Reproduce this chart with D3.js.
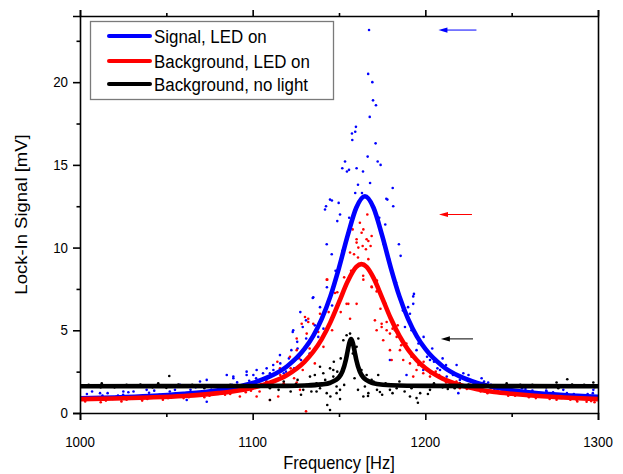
<!DOCTYPE html>
<html>
<head>
<meta charset="utf-8">
<script src="https://cdn.jsdelivr.net/npm/d3@7"></script>
<style>
  body { margin: 0; background: #fff; }
  text { font-family: "Liberation Sans", Arial, sans-serif; fill: #000; }
  .axis path, .axis line { stroke: #000; stroke-width: 1.6; }
</style>
</head>
<body>
<div id="chart"></div>
<script>
// ---- data ----
var xTicks = [1000, 1100, 1200, 1300];
var xMinor = [1050, 1150, 1250];
var yTicks = [0, 5, 10, 15, 20];
var yMinor = [2.5, 7.5, 12.5, 17.5, 22.5];

var seriesNames = ["Signal, LED on", "Background, LED on", "Background, no light"];
var seriesColors = ["#0000ff", "#ff0000", "#000000"];

// fitted curves [frequency, mV]
var blueFit = [[1000,0.89],[1020,0.94],[1040,1.02],[1060,1.16],[1080,1.38],[1090,1.56],[1100,1.82],
  [1110,2.21],[1120,2.83],[1130,3.87],[1135,4.65],[1140,5.69],[1145,7.05],[1150,8.78],[1155,10.72],
  [1160,12.41],[1165,13.10],[1170,12.41],[1175,10.72],[1180,8.78],[1185,7.05],[1190,5.69],[1195,4.65],
  [1200,3.87],[1210,2.83],[1220,2.21],[1230,1.82],[1240,1.56],[1250,1.38],[1260,1.25],[1280,1.08],[1300,0.98]];
var redFit = [[1000,0.84],[1020,0.88],[1040,0.94],[1060,1.03],[1080,1.20],[1090,1.33],[1100,1.53],
  [1110,1.83],[1120,2.30],[1130,3.09],[1135,3.69],[1140,4.47],[1145,5.48],[1150,6.70],[1155,7.95],
  [1160,8.83],[1163,9.00],[1166,8.83],[1170,8.17],[1175,6.96],[1180,5.71],[1185,4.66],[1190,3.83],
  [1195,3.20],[1200,2.72],[1210,2.08],[1220,1.69],[1230,1.44],[1240,1.27],[1250,1.16],[1260,1.07],
  [1280,0.94],[1300,0.84]];
var blackFit = [[1000,1.62],[1100,1.63],[1120,1.64],[1130,1.66],[1140,1.73],[1145,1.83],[1148,1.98],
  [1150,2.16],[1152,2.52],[1154,3.22],[1155,3.74],[1156,4.24],[1157,4.47],[1158,4.24],[1159,3.74],
  [1160,3.22],[1162,2.52],[1164,2.16],[1166,1.98],[1169,1.83],[1172,1.76],[1180,1.68],[1200,1.64],[1300,1.62]];

// measured points [frequency, mV]
var bluePts = [[1167.4,23.15],[1166.9,20.5],[1169.3,20.0],[1169.7,18.9],[1171.4,18.6],[1167.8,17.9],
  [1159.8,17.3],[1159.4,17.0],[1157.5,16.9],[1157.7,16.5],[1171.2,16.3],[1166.6,15.5],[1153.5,15.2],
  [1172.4,15.2],[1174.1,15.0],[1151.9,14.8],[1155.8,14.7],[1154.6,14.6],[1160.2,14.8],[1163.9,14.6],
  [1181.1,13.6],[1159.4,13.3],[1163.3,13.3],[1177.4,12.95],[1178.0,12.9],[1144.8,12.9],[1145.9,12.85],
  [1142.5,12.5],[1141.9,12.3],[1149.8,12.7],[1181.4,12.5],[1150.6,12.0],[1155.9,11.8],[1149.0,11.6],
  [1173.3,11.8],[1176.8,11.4],[1142.9,10.2],[1145.8,9.6],[1184.7,10.2],[1185.7,9.5],[1135.1,7.0],
  [1127.6,6.1],[1130.9,5.6],[1123.5,5.0],[1193.0,6.6],[1191.1,6.0],[1193.4,7.2],[1134.8,6.95],
  [1129.0,5.2],[1125.8,4.3],[1123.2,4.9],[1122.4,3.8],[1115.8,3.5],[1111.9,2.9],[1108.1,2.7],
  [1102.3,2.6],[1096.5,2.3],[1088.8,2.2],[1085.0,2.3],[1119.3,2.5],[1110.0,2.4],[1193.0,7.05],
  [1188.2,5.2],[1179.5,3.2],[1194.9,3.8],[1202.7,3.2],[1208.5,2.6],[1212.4,2.2],[1198.8,2.6],
  [1189.1,2.3],[1088.8,2.1],[1096.5,2.5],[1100.4,2.3],[1069.5,1.9],[1073.4,2.0],[1057.9,1.7],
  [1038.6,1.4],[1025.1,1.3],[1011.6,1.2],[1073.4,0.68],[1061.8,0.79],[1218.1,2.9],[1232.6,2.1],
  [1236.4,1.84],[1297.3,1.4],[1219.1,1.2],[1270.2,1.29],[1279.9,1.4],
  [1102,2.1],[1104,1.6],[1106,2.4],[1108,1.9],[1112,2.6],[1114,2.0],[1116,3.0],[1118,2.4],[1121,3.3],
  [1124,2.7],[1126,3.9],[1128,3.2],[1131,4.5],[1133,3.6],[1136,5.3],[1138,4.6],[1139,6.4],[1141,5.1],
  [1143,7.6],[1146,6.5],[1148,8.6],[1152,9.8],[1161,13.8],[1168,13.9],[1171,12.0],[1176,10.2],
  [1179,9.3],[1183,7.9],[1187,6.2],[1190,6.4],[1192,5.0],[1196,4.2],[1199,4.6],[1201,3.4],[1204,3.9],
  [1207,2.7],[1210,3.3],[1214,2.5],[1220,2.0],[1225,2.3],[1238,1.7],[1244,1.3],[1256,1.5],
  [1002,0.8],[1004,1.15],[1007,1.3],[1010,0.95],[1013,1.05],[1016,1.2],[1019,0.85],[1022,1.05],
  [1025,1.1],[1028,1.25],[1031,1.3],[1034,0.98],[1037,1.0],[1040,1.22],[1043,1.35],[1046,1.1],
  [1049,0.95],[1052,1.3],[1055,1.4],[1058,1.05],[1061,1.15],[1064,1.4],[1067,1.55],[1070,1.2],
  [1073,1.3],[1076,1.55],[1079,1.6],[1082,1.35],[1085,1.45],[1088,1.7],[1091,1.85],[1094,1.5],
  [1096,1.55],[1098,1.95],
  [1205,3.1],[1212,2.9],[1216,2.3],[1222,2.4],[1228,1.75],[1234,1.9],[1240,1.45],[1246,1.6],[1252,1.3],
  [1258,1.45],[1262,1.35],[1264,1.15],[1268,1.05],[1270,1.35],[1274,1.25],[1276,1.05],[1280,0.95],
  [1282,1.2],[1286,1.15],[1288,0.95],[1292,1.0],[1294,1.15],[1297,1.2],[1299,0.85]];
var redPts = [[1166.4,12.0],[1162.1,11.5],[1157.9,11.1],[1164.1,11.1],[1163.1,10.9],[1168.9,10.7],
  [1160.2,10.5],[1167.0,10.4],[1168.3,10.1],[1163.7,10.1],[1161.2,10.0],[1165.6,9.9],[1158.7,9.6],
  [1156.4,9.7],[1142.9,8.06],[1147.7,7.25],[1132.2,5.7],[1135.1,5.4],[1139.0,6.0],[1128.4,5.4],
  [1131.3,4.8],[1125.5,4.5],[1155.4,6.6],[1156.4,5.7],[1160.2,6.6],[1171.8,5.0],[1174.7,5.2],
  [1177.6,5.5],[1179.5,4.8],[1182.4,5.0],[1175.6,4.4],[1168.9,7.65],[1171.8,7.35],[1166.0,10.5],
  [1160.2,10.3],[1130.3,5.8],[1132.2,5.5],[1125.5,3.8],[1121.6,3.4],[1114.3,3.1],[1115.8,2.7],
  [1125.5,1.84],[1127.4,1.4],[1130.9,0.1],[1114.8,1.0],[1110.0,0.79],[1102.3,1.0],[1092.6,1.0],
  [1143.2,8.06],[1174.7,5.4],[1177.6,5.0],[1183.4,4.6],[1185.3,3.8],[1187.2,3.2],[1191.1,3.0],
  [1194.9,2.6],[1198.8,2.4],[1193.0,2.2],[1202.7,2.2],[1179.5,3.8],[1180.5,3.2],[1164.1,8.06],
  [1170.8,5.6],[1154.4,6.6],[1287.6,0.79],[1293.4,0.68],
  [1104,1.3],[1108,1.9],[1112,1.6],[1116,2.3],[1118,1.8],[1122,2.7],[1124,2.1],[1127,3.3],[1129,2.6],
  [1133,3.9],[1136,3.0],[1138,4.9],[1141,4.0],[1144,6.1],[1146,5.0],[1149,7.3],[1151,6.1],[1153,8.2],
  [1157,8.6],[1161,9.4],[1164,8.3],[1167,9.3],[1169,7.6],[1172,8.0],[1174,6.3],[1177,6.6],[1181,5.1],
  [1184,5.3],[1186,4.1],[1189,4.2],[1192,3.4],[1196,2.9],[1199,3.1],[1203,2.4],[1208,2.3],[1214,1.9],
  [1220,1.5],[1226,1.7],[1232,1.3],[1238,1.5],
  [1003,0.7],[1006,0.85],[1009,0.95],[1012,0.65],[1015,0.75],[1018,0.9],[1021,0.98],[1024,0.7],
  [1027,0.8],[1030,0.95],[1033,1.0],[1036,0.75],[1039,0.85],[1042,1.0],[1045,1.05],[1048,0.8],
  [1051,0.9],[1054,1.05],[1057,1.15],[1060,0.9],[1063,0.95],[1066,1.15],[1069,1.25],[1072,0.95],
  [1075,1.05],[1078,1.3],[1081,1.35],[1084,1.1],[1087,1.15],[1090,1.4],[1093,1.5],[1096,1.25],
  [1099,1.35],[1102,1.6],[1105,1.75],
  [1206,2.5],[1212,1.85],[1218,1.9],[1224,1.45],[1230,1.6],[1236,1.2],[1242,1.35],[1246,1.3],
  [1248,1.05],[1252,1.05],[1254,1.2],[1258,1.15],[1260,0.95],[1264,0.9],[1266,1.1],[1270,1.05],
  [1272,0.85],[1276,0.8],[1278,1.0],[1282,0.95],[1284,0.8],[1288,0.7],[1290,0.95],[1294,0.9],
  [1296,0.72],[1298,0.65],[1300,0.85]];
var blackPts = [[1154.4,4.7],[1156.4,4.8],[1152.5,4.4],[1161.2,4.5],[1160.2,4.0],[1144.8,2.7],
  [1146.7,2.2],[1150.6,1.4],[1148.6,1.2],[1166.0,2.3],[1172.7,2.3],[1168.9,2.0],[1164.1,1.0],
  [1179.5,1.4],[1191.1,1.0],[1194.9,0.9],[1183.4,1.5],[1202.7,1.4],[1139.0,2.8],[1146.7,2.6],
  [1140.9,2.4],[1137.0,1.8],[1142.9,1.2],[1143.2,0.48],[1137.0,1.3],[1119.7,1.6],[1129.3,1.4],
  [1110.0,0.79],[1133.2,2.2],[1148.6,1.6],[1144.8,0.18],[1150.6,0.84],[1166.8,1.03],[1195.7,0.62],
  [1173.7,1.27],[1201.5,1.15],[1051.7,2.24],[1045.3,1.8],[1012.6,1.8],[1282.2,2.04],[1276.0,1.84],
  [1297.3,1.84],[1247.1,1.8],[1233.6,1.8],
  [1115,1.4],[1118,1.9],[1122,1.3],[1126,2.0],[1128,1.1],[1131,1.7],[1134,1.3],[1136,2.3],[1139,1.5],
  [1142,2.0],[1145,1.0],[1147,3.1],[1149,2.5],[1151,3.3],[1153,1.7],[1155,3.9],[1158,3.6],[1159,2.1],
  [1161,1.4],[1163,2.6],[1165,1.6],[1167,1.2],[1170,1.9],[1172,1.4],[1175,1.1],[1177,1.8],[1181,1.2],
  [1185,1.9],[1188,1.3],[1192,1.5],[1197,1.2],[1205,1.8],[1213,1.45],[1220,1.8],
  [1005,1.7],[1012,1.55],[1020,1.55],[1027,1.7],[1035,1.72],[1042,1.55],[1050,1.52],[1057,1.72],
  [1065,1.7],[1072,1.5],[1080,1.56],[1087,1.7],[1095,1.72],[1102,1.55],[1110,1.5],[1125,1.75],
  [1210,1.55],[1217,1.5],[1225,1.72],[1232,1.68],[1240,1.5],[1247,1.55],[1255,1.7],[1262,1.7],
  [1270,1.55],[1277,1.5],[1285,1.72],[1292,1.7],[1298,1.56]];

// arrows: [mV level, tail frequency, head frequency]
var arrows = [[23.15, 1229.6, 1207.6], [12.0, 1227.0, 1207.9], [4.48, 1227.6, 1209.0]];

// ---- layout ----
var width = 623, height = 474;
var padL = 80, padR = 598, padT = 16, padB = 413;
var squish = 0.89;   // picture text is a bit narrow

var svg = d3.select("#chart").append("svg")
  .attr("width", width).attr("height", height);

var xScale = d3.scaleLinear().domain([1000, 1300]).range([padL, padR]);
var yScale = d3.scaleLinear().domain([0, 24]).range([padB, padT]);

// helper for narrow text
function label(g, x, y, str, size, anchor, rot) {
  var t = "translate(" + x + "," + y + ") scale(" + squish + ",1)" + (rot ? " rotate(" + rot + ")" : "");
  return g.append("text")
    .attr("transform", t)
    .attr("text-anchor", anchor)
    .style("font-size", size + "px")
    .text(str);
}

svg.append("clipPath").attr("id", "plotclip")
  .append("rect").attr("x", padL).attr("y", padT)
  .attr("width", padR - padL).attr("height", padB - padT);

var plot = svg.append("g").attr("clip-path", "url(#plotclip)");

// scatter points
var ptsSets = [bluePts, redPts, blackPts];
ptsSets.forEach(function(pts, i) {
  plot.append("g").selectAll("circle").data(pts).enter().append("circle")
    .attr("cx", function(d) { return xScale(d[0]); })
    .attr("cy", function(d) { return yScale(d[1]); })
    .attr("r", 1.3)
    .attr("fill", seriesColors[i]);
});

// fitted lines
var line = d3.line()
  .curve(d3.curveMonotoneX)
  .x(function(d) { return xScale(d[0]); })
  .y(function(d) { return yScale(d[1]); });

[blueFit, redFit, blackFit].forEach(function(fit, i) {
  plot.append("path").datum(fit)
    .attr("d", line)
    .attr("fill", "none")
    .attr("stroke", seriesColors[i])
    .attr("stroke-width", 4.6);
});

// ---- axes ----
function noDomain(g) { g.select(".domain").remove(); }

svg.append("g").attr("class", "axis")
  .attr("transform", "translate(0," + padB + ")")
  .call(d3.axisBottom(xScale).tickValues(xTicks).tickSize(7).tickFormat(""));
svg.append("g").attr("class", "axis")
  .attr("transform", "translate(0," + padB + ")")
  .call(d3.axisBottom(xScale).tickValues(xMinor).tickSize(4).tickFormat("")).call(noDomain);
svg.append("g").attr("class", "axis")
  .attr("transform", "translate(0," + padT + ")")
  .call(d3.axisTop(xScale).tickValues(xTicks).tickSize(6).tickFormat(""));
svg.append("g").attr("class", "axis")
  .attr("transform", "translate(0," + padT + ")")
  .call(d3.axisTop(xScale).tickValues(xMinor).tickSize(3).tickFormat("")).call(noDomain);
svg.append("g").attr("class", "axis")
  .attr("transform", "translate(" + padL + ",0)")
  .call(d3.axisLeft(yScale).tickValues(yTicks).tickSize(7).tickFormat(""));
svg.append("g").attr("class", "axis")
  .attr("transform", "translate(" + padL + ",0)")
  .call(d3.axisLeft(yScale).tickValues(yMinor).tickSize(3.5).tickFormat("")).call(noDomain);
svg.append("g").attr("class", "axis")
  .attr("transform", "translate(" + padR + ",0)")
  .call(d3.axisRight(yScale).tickValues([]).tickSizeOuter(0));

// tick labels
xTicks.forEach(function(v) { label(svg, xScale(v), 447, v, 15, "middle"); });
yTicks.forEach(function(v) { label(svg, padL - 12, yScale(v) + 5, v, 15, "end"); });

// axis titles
label(svg, (padL + padR) / 2, 469, "Frequency [Hz]", 18.5, "middle");
label(svg, 27, (padT + padB) / 2, "Lock-In Signal [mV]", 18.5, "middle", -90);

// ---- arrows ----
var arrowG = svg.append("g");
arrows.forEach(function(a, i) {
  var y = yScale(a[0]), x1 = xScale(a[1]), x2 = xScale(a[2]);
  arrowG.append("line")
    .attr("x1", x1).attr("x2", x2 + 6).attr("y1", y).attr("y2", y)
    .attr("stroke", seriesColors[i]).attr("stroke-width", 1);
  arrowG.append("path")
    .attr("d", "M" + x2 + "," + y + "L" + (x2 + 9) + "," + (y - 2.6) + "L" + (x2 + 9) + "," + (y + 2.6) + "Z")
    .attr("fill", seriesColors[i]);
});

// ---- legend ----
var legend = svg.append("g");
legend.append("rect")
  .attr("x", 90.5).attr("y", 21.5).attr("width", 243).attr("height", 78)
  .attr("fill", "#fff").attr("stroke", "#7a7a7a").attr("stroke-width", 1.3);
var legendY = [36, 61, 84];
seriesNames.forEach(function(name, i) {
  legend.append("line")
    .attr("x1", 109).attr("x2", 150)
    .attr("y1", legendY[i]).attr("y2", legendY[i])
    .attr("stroke", seriesColors[i]).attr("stroke-width", 4)
    .attr("stroke-linecap", "round");
  label(legend, 154, legendY[i] + 7, name, 19, "start");
});
</script>
</body>
</html>
